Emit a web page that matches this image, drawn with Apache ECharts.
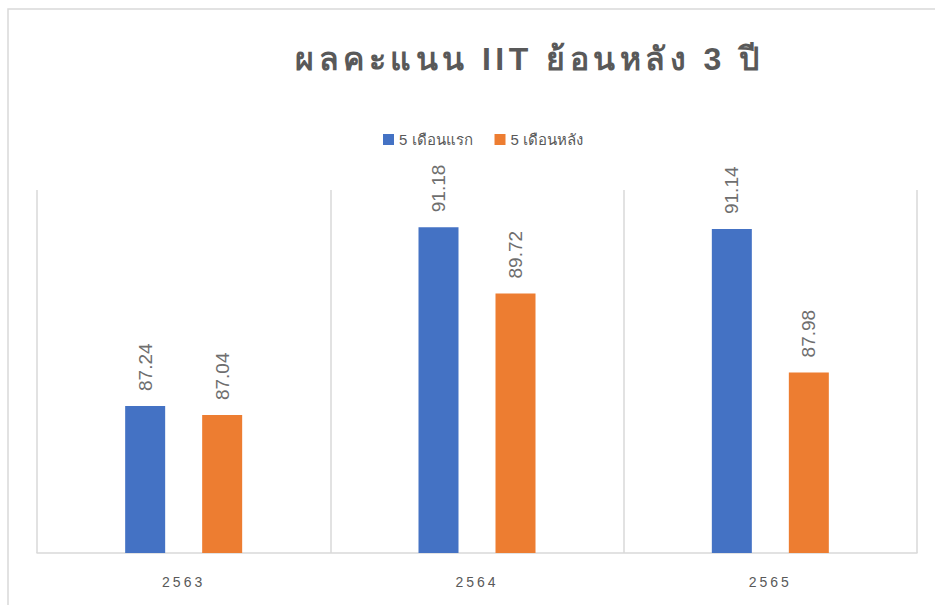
<!DOCTYPE html>
<html>
<head>
<meta charset="utf-8">
<script src="https://cdn.jsdelivr.net/npm/echarts@6/dist/echarts.min.js"></script>
<style>
  html, body { margin: 0; padding: 0; background: #fff; }
  #chart { width: 935px; height: 605px; }
</style>
</head>
<body>
<div id="chart"></div>
<script>
const years = ['2563', '2564', '2565'];
const firstHalf = [87.24, 91.18, 91.14];
const secondHalf = [87.04, 89.72, 87.98];
const seriesNames = ['5 เดือนแรก', '5 เดือนหลัง'];
const titleText = 'ผลคะแนน IIT ย้อนหลัง 3 ปี';

const chart = echarts.init(document.getElementById('chart'), null, { renderer: 'svg' });
const textColor = '#595959';
const fontFamily = '"Liberation Sans", Arial, "Noto Sans", sans-serif';

const labelStyle = {
  show: true, position: 'top', rotate: 90, align: 'left', verticalAlign: 'middle',
  distance: 15, fontSize: 19, color: '#6e6e6e', fontFamily: fontFamily
};

chart.setOption({
  animation: false,
  graphic: [{
    type: 'rect',
    shape: { x: 8, y: 9, width: 1000, height: 700 },
    style: { fill: 'none', stroke: '#d9d9d9', lineWidth: 1.5 },
    silent: true
  }],
  title: {
    text: titleText,
    left: 290,
    top: 38,
    textStyle: { fontSize: 32, fontWeight: 'bold', color: textColor, fontFamily: fontFamily }
  },
  legend: {
    data: seriesNames,
    top: 127,
    left: 378,
    itemWidth: 11,
    itemHeight: 11,
    itemGap: 22,
    icon: 'rect',
    textStyle: { fontSize: 15, color: textColor, fontFamily: fontFamily }
  },
  grid: { left: 37, right: 18, top: 190, bottom: 52 },
  xAxis: {
    type: 'category',
    data: years,
    axisLine: { lineStyle: { color: '#d9d9d9', width: 1.5 } },
    axisTick: { show: false },
    splitLine: { show: true, lineStyle: { color: '#d9d9d9', width: 1.5 } },
    axisLabel: { margin: 22, fontSize: 14, color: textColor, fontFamily: fontFamily }
  },
  yAxis: {
    type: 'value',
    min: 84,
    max: 92,
    show: false
  },
  series: [
    {
      name: seriesNames[0],
      type: 'bar',
      data: firstHalf,
      barWidth: 40,
      barGap: '92.5%',
      itemStyle: { color: '#4472C4' },
      label: labelStyle
    },
    {
      name: seriesNames[1],
      type: 'bar',
      data: secondHalf,
      barWidth: 40,
      itemStyle: { color: '#ED7D31' },
      label: labelStyle
    }
  ]
});

// spaced-out lettering like the original for title and year labels
function spaceLetters() {
  document.querySelectorAll('#chart svg text').forEach(function (t) {
    const s = t.textContent;
    if (s === titleText) t.style.letterSpacing = '4.5px';
    else if (years.indexOf(s) >= 0) t.style.letterSpacing = '3px';
  });
}
spaceLetters();
chart.on('finished', spaceLetters);
</script>
</body>
</html>
